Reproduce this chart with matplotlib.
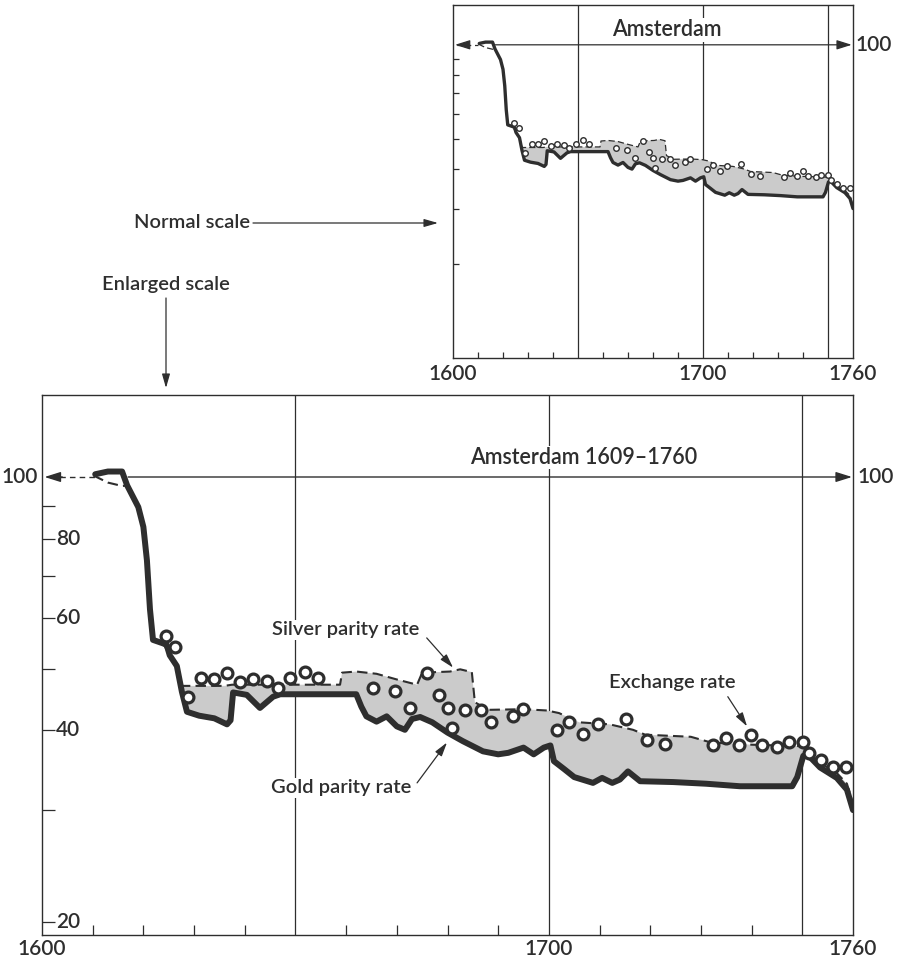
import numpy as np
import matplotlib
matplotlib.use('Agg')
import matplotlib.pyplot as plt
from matplotlib.ticker import FixedLocator, NullLocator, NullFormatter
import matplotlib.transforms as mtrans

plt.rcParams['font.family'] = ['Lato', 'DejaVu Sans']
plt.rcParams['font.weight'] = 'semibold'

# ---------------- data ----------------
gold_years = [1610.5, 1613, 1615.8, 1616.8, 1619, 1620, 1620.7, 1621.3, 1621.9, 1623.9,
              1624.6, 1625.2, 1626.6, 1627.6, 1628.6, 1631, 1634, 1636.5, 1637.2, 1637.7,
              1640.4, 1643, 1645.6, 1647, 1662, 1663, 1664, 1666, 1668, 1670,
              1671.6, 1673, 1674.6, 1677, 1680, 1683, 1687, 1690, 1692, 1695,
              1697, 1699, 1700.3, 1701, 1703, 1705, 1708.7, 1710.5, 1712.5, 1714,
              1715.6, 1718, 1724.5, 1731, 1737.7, 1748, 1749, 1750.2, 1751, 1753.5,
              1756.8, 1758.8, 1760]
gold_vals = [101, 102, 102, 97, 89.7, 83.5, 74, 62, 55.5, 54.8,
             54.5, 52.5, 50.5, 46, 42.8, 42.2, 41.8, 40.9, 41.5, 45.9,
             45.5, 43.4, 45.2, 45.6, 45.6, 43.6, 42.1, 41.3, 42.1, 40.6,
             40.1, 41.7, 42.0, 41.2, 39.7, 38.5, 37.1, 36.7, 36.9, 37.6,
             36.7, 37.6, 37.9, 35.8, 34.8, 33.8, 33.1, 33.7, 33.1, 33.5,
             34.5, 33.3, 33.2, 33.0, 32.7, 32.7, 33.8, 36.5, 36.7, 35.0,
             33.7, 32.3, 30.0]

silver_years = [1610.2, 1613, 1615.8, 1617, 1619, 1620, 1620.7, 1621.3, 1621.9, 1623.9,
                1625.2, 1626.6, 1627.6, 1628.3, 1636, 1637.5, 1645, 1658.8, 1659.2, 1662,
                1666, 1670, 1674, 1675, 1680.5, 1682.5, 1684.8, 1685.4, 1688, 1695,
                1699.6, 1702, 1706, 1712, 1716.6, 1719, 1728, 1732, 1740, 1750,
                1750.6, 1753.5, 1756.8, 1758.8, 1760]
silver_vals = [100.5, 98, 96.8, 97, 89.7, 83.5, 74, 62, 55.5, 54.8,
               52.5, 50.5, 47, 47, 47, 47.2, 47.2, 47.2, 49.3, 49.5,
               49.1, 48.1, 47.2, 49.3, 49.5, 49.9, 49.4, 44.3, 43.1, 43.2,
               43.0, 42.6, 41.2, 40.9, 40.1, 39.4, 39.1, 38.3, 38.0, 37.8,
               37.3, 35.6, 34.3, 33.0, 30.7]

exch_years = [1624.5, 1626.2, 1628.8, 1631.4, 1634, 1636.5, 1639, 1641.6, 1644.4, 1646.5,
              1649, 1651.9, 1654.4, 1665.3, 1669.6, 1672.6, 1675.9, 1678.3, 1680.1, 1680.9,
              1683.4, 1686.6, 1688.6, 1692.9, 1694.9, 1701.7, 1704, 1706.7, 1709.7, 1715.2,
              1719.3, 1722.9, 1732.3, 1734.9, 1737.5, 1739.8, 1742, 1745, 1747.3, 1750.1,
              1751.3, 1753.7, 1756, 1758.6]
exch_vals = [56.2, 54.1, 45.2, 48.4, 48.2, 49.3, 47.6, 48.1, 47.8, 46.7,
             48.4, 49.5, 48.4, 46.7, 46.2, 43.4, 49.3, 45.4, 43.4, 40.4,
             43.1, 43.1, 41.3, 42.1, 43.2, 40.0, 41.3, 39.5, 40.9, 41.7,
             38.7, 38.1, 37.9, 39.0, 38.0, 39.4, 38.0, 37.7, 38.4, 38.4,
             36.9, 36.0, 35.0, 35.0]

x_label_pos = [1600, 1700, 1760]
x_label_txt = ['1600', '1700', '1760']
x_minor = [1610, 1620, 1630, 1640, 1660, 1670, 1680, 1690, 1710, 1720, 1730, 1740]
v_lines = [1650, 1700, 1750]
y_minor = [20, 30, 40, 50, 60, 70, 80, 90]
y_lab_vals = [80, 60, 40, 20]
y_lab_txt = ['80', '60', '40', '20']

INK = '#2e2e2e'
FILL = '#cbcbcb'
FS_TICK = 15
FS_NOTE = 14.5
FS_TITLE = 15.5

fig = plt.figure(figsize=(8.97, 9.59), dpi=100)
W, H = 897.0, 959.0
ax_top = fig.add_axes([453 / W, 1 - 358 / H, 400 / W, 353 / H])
ax_bot = fig.add_axes([42 / W, 1 - 935 / H, 811 / W, 540 / H])


def draw_panel(ax, big):
    grid = np.union1d(gold_years, silver_years)
    g = np.interp(grid, gold_years, gold_vals)
    sv = np.interp(grid, silver_years, silver_vals)
    ax.fill_between(grid, g, sv, where=sv > g, interpolate=True, color=FILL, lw=0, zorder=2)
    ax.plot(silver_years, silver_vals, color=INK, lw=1.5 if big else 0.9,
            ls=(0, (5, 2.5)), zorder=3)
    ax.plot(gold_years, gold_vals, color=INK, lw=4.3 if big else 2.4,
            solid_joinstyle='round', solid_capstyle='round', zorder=4)
    ax.plot(exch_years, exch_vals, 'o', ms=7.8 if big else 4.0, mfc='white', mec=INK,
            mew=2.3 if big else 1.0, zorder=5)
    for yr in v_lines:
        ax.axvline(yr, color=INK, lw=0.9, zorder=1)
    ax.set_xlim(1600, 1760)
    ax.set_yscale('log')
    for sp in ax.spines.values():
        sp.set_color(INK)
        sp.set_linewidth(1.0)
    ax.xaxis.set_major_locator(FixedLocator(x_label_pos))
    ax.set_xticklabels(x_label_txt)
    ax.xaxis.set_minor_locator(FixedLocator(x_minor))
    ax.tick_params(axis='x', which='major', length=0, pad=3 if big else 4, labelsize=FS_TICK,
                   labelcolor=INK)
    ax.tick_params(axis='x', which='minor', direction='in', length=7 if big else 4,
                   width=0.9, color=INK)
    ax.yaxis.set_major_locator(FixedLocator(y_minor))
    ax.yaxis.set_minor_locator(NullLocator())
    ax.yaxis.set_major_formatter(NullFormatter())
    ax.yaxis.set_minor_formatter(NullFormatter())
    ax.tick_params(axis='y', which='major', direction='in', length=9 if big else 4.5,
                   width=0.9, color=INK)
    tr = mtrans.blended_transform_factory(ax.transAxes, ax.transData)
    return tr


# ---------------- bottom (enlarged) panel ----------------
tr = draw_panel(ax_bot, True)
ax_bot.set_ylim(19.1, 134.5)
for v, t in zip(y_lab_vals, y_lab_txt):
    ax_bot.text(0.0175, v, t, transform=tr, ha='left', va='center', fontsize=FS_TICK, color=INK)
ax_bot.text(-0.005, 100, '100', transform=tr, ha='right', va='center', fontsize=FS_TICK, color=INK)
ax_bot.text(1.006, 100, '100', transform=tr, ha='left', va='center', fontsize=FS_TICK, color=INK)
ax_bot.plot([1601.5, 1611], [100, 100], color=INK, lw=1.0, ls=(0, (4, 3)), zorder=1)
ax_bot.annotate('', xy=(1600.5, 100), xytext=(1604, 100),
                arrowprops=dict(arrowstyle='-|>,head_length=0.7,head_width=0.22',
                                color=INK, lw=1.0, mutation_scale=14, shrinkA=0, shrinkB=0))
ax_bot.annotate('', xy=(1759.8, 100), xytext=(1617, 100),
                arrowprops=dict(arrowstyle='-|>,head_length=0.7,head_width=0.22',
                                color=INK, lw=1.0, mutation_scale=14, shrinkA=0, shrinkB=0),
                zorder=1)
ax_bot.text(1706.9, 107.3, 'Amsterdam 1609\u20131760', ha='center', va='center', fontsize=FS_TITLE,
            color=INK, bbox=dict(facecolor='white', edgecolor='none', pad=1), zorder=6)

arr = dict(arrowstyle='-|>,head_length=0.7,head_width=0.2', color=INK, lw=0.9,
           mutation_scale=12, shrinkA=0, shrinkB=0)
ax_bot.text(1660.0, 57.6, 'Silver parity rate', ha='center', va='center', fontsize=FS_NOTE,
            color=INK, bbox=dict(facecolor='white', edgecolor='none', pad=1), zorder=6)
ax_bot.annotate('', xy=(1681.1, 50.2), xytext=(1675.9, 55.9), arrowprops=arr, zorder=6)
ax_bot.text(1659.0, 32.5, 'Gold parity rate', ha='center', va='center', fontsize=FS_NOTE,
            color=INK, bbox=dict(facecolor='white', edgecolor='none', pad=1), zorder=6)
ax_bot.annotate('', xy=(1679.9, 38.3), xytext=(1674.0, 33.1), arrowprops=arr, zorder=6)
ax_bot.text(1724.3, 47.5, 'Exchange rate', ha='center', va='center', fontsize=FS_NOTE,
            color=INK, zorder=6)
ax_bot.annotate('', xy=(1739.1, 40.6), xytext=(1735.3, 45.2), arrowprops=arr, zorder=6)

# ---------------- top (normal) panel ----------------
tr2 = draw_panel(ax_top, False)
ax_top.set_ylim(10, 134)
ax_top.text(1.005, 100, '100', transform=tr2, ha='left', va='center', fontsize=FS_TICK, color=INK)
ax_top.plot([1601.5, 1610], [100, 100], color=INK, lw=0.9, ls=(0, (4, 3)), zorder=1)
ax_top.annotate('', xy=(1600.8, 100), xytext=(1604, 100),
                arrowprops=dict(arrowstyle='-|>,head_length=0.7,head_width=0.22',
                                color=INK, lw=0.9, mutation_scale=13, shrinkA=0, shrinkB=0))
ax_top.annotate('', xy=(1759.5, 100), xytext=(1617, 100),
                arrowprops=dict(arrowstyle='-|>,head_length=0.7,head_width=0.22',
                                color=INK, lw=0.9, mutation_scale=13, shrinkA=0, shrinkB=0),
                zorder=1)
ax_top.text(1685.6, 111.7, 'Amsterdam', ha='center', va='center', fontsize=FS_TITLE, color=INK,
            bbox=dict(facecolor='white', edgecolor='none', pad=1), zorder=6)

# ---------------- scale captions ----------------
fig.text(250 / W, 1 - 223 / H, 'Normal scale', ha='right', va='center', fontsize=FS_NOTE, color=INK)
fig.text(166 / W, 1 - 284 / H, 'Enlarged scale', ha='center', va='center', fontsize=FS_NOTE, color=INK)
farr = dict(arrowstyle='-|>,head_length=0.7,head_width=0.2', color=INK, lw=0.9,
            mutation_scale=12, shrinkA=0, shrinkB=0)
fig.add_artist(matplotlib.patches.FancyArrowPatch((253 / W, 1 - 223 / H), (438 / W, 1 - 223 / H),
                                                  transform=fig.transFigure, **farr))
fig.add_artist(matplotlib.patches.FancyArrowPatch((166 / W, 1 - 298 / H), (166 / W, 1 - 388 / H),
                                                  transform=fig.transFigure, **farr))

fig.savefig('out.png', dpi=100)
